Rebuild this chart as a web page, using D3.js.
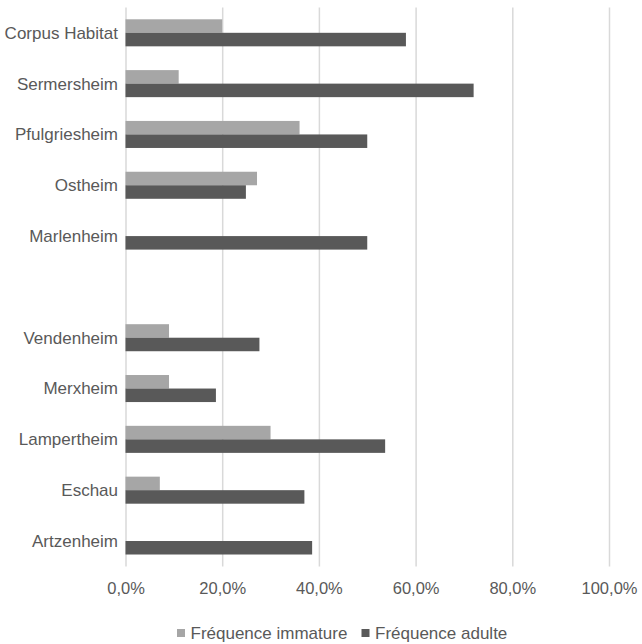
<!DOCTYPE html>
<html>
<head>
<meta charset="utf-8">
<script src="https://cdn.jsdelivr.net/npm/d3@7"></script>
<style>
  html, body { margin: 0; padding: 0; background: #fff; }
  svg { display: block; font-family: "Liberation Sans", Arial, sans-serif; }
</style>
</head>
<body>
<svg id="chart" width="642" height="644"></svg>
<script>
// ---- data ----
const categories = ["Corpus Habitat", "Sermersheim", "Pfulgriesheim", "Ostheim", "Marlenheim", "__gap__",
                    "Vendenheim", "Merxheim", "Lampertheim", "Eschau", "Artzenheim"];
const seriesNames = ["Fréquence immature", "Fréquence adulte"];
const immature = [20, 11, 36, 27.2, 0, null, 9, 9, 30, 7.1, 0];
const adulte   = [58, 72, 50, 24.9, 50, null, 27.7, 18.7, 53.7, 37, 38.6];
const tickValues = [0, 20, 40, 60, 80, 100];
const colors = ["#a6a6a6", "#595959"];

const svg = d3.select("#chart");
const plotLeft = 125.5, plotRight = 609, plotTop = 7.4, plotBottom = 566.4;

const x = d3.scaleLinear().domain([0, 100]).range([plotLeft, plotRight]);
const pIn = 0.468;
const y = d3.scaleBand().domain(categories).range([plotTop, plotBottom]).paddingInner(pIn).paddingOuter(pIn / 2);
const ySub = d3.scaleBand().domain(seriesNames).range([0, y.bandwidth()]).padding(0);

// gridlines + tick labels via axis
const xAxis = d3.axisBottom(x)
  .tickValues(tickValues)
  .tickSize(-(plotBottom - plotTop))
  .tickSizeOuter(0)
  .tickPadding(0)
  .tickFormat(d => d3.format(".1f")(d).replace(".", ",") + "%");

const gx = svg.append("g").attr("transform", `translate(0,${plotBottom})`).call(xAxis);
gx.select(".domain").remove();
gx.selectAll(".tick line").attr("stroke", "#d9d9d9").attr("stroke-width", 1.5);
gx.selectAll(".tick text")
  .attr("fill", "#595959")
  .attr("font-size", "16.5px")
  .attr("dy", null)
  .attr("y", 594 - plotBottom)
  .style("font-family", "'Liberation Sans', Arial, sans-serif");

// bars
const rows = categories.map((c, i) => ({ c, vals: [immature[i], adulte[i]] })).filter(r => r.c !== "__gap__");
const g = svg.append("g");
rows.forEach(r => {
  r.vals.forEach((v, j) => {
    if (!v) return;
    g.append("rect")
      .attr("x", x(0))
      .attr("y", y(r.c) + ySub(seriesNames[j]))
      .attr("width", x(v) - x(0))
      .attr("height", ySub.bandwidth())
      .attr("fill", colors[j]);
  });
});

// category labels
svg.append("g").selectAll("text")
  .data(rows)
  .join("text")
  .attr("x", 118)
  .attr("y", d => y(d.c) + y.bandwidth() / 2)
  .attr("dy", "0.35em")
  .attr("text-anchor", "end")
  .attr("fill", "#595959")
  .attr("font-size", "17px")
  .text(d => d.c);

// legend
const legend = svg.append("g");
const legendItems = [{ name: seriesNames[0], sx: 177, color: colors[0] }, { name: seriesNames[1], sx: 361.5, color: colors[1] }];
legendItems.forEach(it => {
  legend.append("rect").attr("x", it.sx).attr("y", 629).attr("width", 8).attr("height", 8).attr("fill", it.color);
  legend.append("text").attr("x", it.sx + 13.5).attr("y", 638.5)
    .attr("fill", "#595959").attr("font-size", "17px").text(it.name);
});
</script>
</body>
</html>
